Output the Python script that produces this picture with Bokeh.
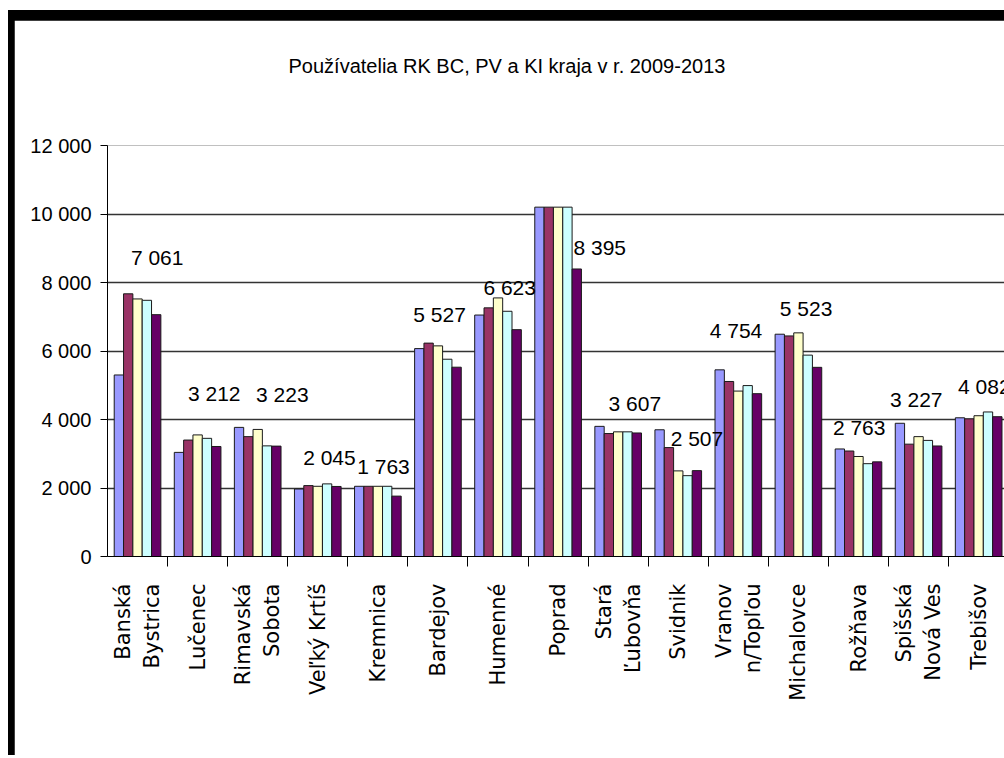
import math
import numpy as np
from bokeh.plotting import figure
from bokeh.models import ColumnDataSource, FixedTicker, Range1d, Title
from bokeh.layouts import column
from bokeh.core.properties import value
from bokeh.embed import file_html
from bokeh.resources import INLINE

# ---------------- data ----------------
title_text = "Používatelia RK BC, PV a KI kraja v r. 2009-2013"
categories = ["Banská\nBystrica", "Lučenec", "Rimavská\nSobota", "Veľký Krtíš", "Kremnica",
              "Bardejov", "Humenné", "Poprad", "Stará\nĽubovňa", "Svidnik",
              "Vranov\nn/Topľou", "Michalovce", "Rožňava", "Spišská\nNová Ves", "Trebišov"]
series_names = ["2009", "2010", "2011", "2012", "2013"]
s2009 = [5300, 3040, 3770, 1970, 2050, 6070, 7050, 10200, 3800, 3700, 5450, 6490, 3140, 3890, 4050]
s2010 = [7670, 3400, 3500, 2070, 2050, 6230, 7260, 10200, 3590, 3180, 5110, 6440, 3080, 3280, 4020]
s2011 = [7520, 3550, 3710, 2050, 2050, 6150, 7550, 10200, 3640, 2500, 4830, 6530, 2920, 3500, 4110]
s2012 = [7480, 3450, 3230, 2120, 2050, 5760, 7160, 10200, 3640, 2360, 4990, 5880, 2710, 3390, 4220]
s2013 = [7061, 3212, 3223, 2045, 1763, 5527, 6623, 8395, 3607, 2507, 4754, 5523, 2763, 3227, 4082]
y_ticks = [0, 2000, 4000, 6000, 8000, 10000, 12000]
y_tick_labels = ["0", "2 000", "4 000", "6 000", "8 000", "10 000", "12 000"]

# manual nudges of the 2013 data labels (pixels), as placed in the original
label_nudge_x = [1, -2, 6, -7, -13, -17, -7, 23, -2, 0, -21, -11, -18, -21, -13]
label_nudge_y = [57, 53, 52, 29, 30, 53, 42, 21, 29, 32, 63, 59, 34, 46, 30]

colors = ["#9999FF", "#993366", "#FFFFCC", "#CCFFFF", "#660066"]
series = [s2009, s2010, s2011, s2012, s2013]

SANS = "Liberation Sans"

p = figure(width=990, height=735, output_backend="svg", toolbar_location=None,
           x_range=Range1d(0, 14.93), y_range=Range1d(0, 12000),
           min_border_left=93, min_border_right=0, min_border_top=125, min_border_bottom=199,
           border_fill_color="white", background_fill_color="white",
           outline_line_color=None)
p.margin = (10, 0, 0, 6)
p.title.text = ""
p.title.standoff = 0

# blank spacer between frame and title, then the title itself (outermost)
p.add_layout(Title(text=" ", standoff=40, text_font=SANS, text_font_size="20px"), "above")
p.add_layout(Title(text=title_text, align="left", offset=181, standoff=10,
                   text_font=SANS, text_font_size="20px", text_font_style="normal",
                   text_color="black"), "above")

n = len(categories)
idx = np.arange(n)
bw = 0.1553
first = 0.1117 + bw / 2
for k, (name, vals) in enumerate(zip(series_names, series)):
    src = ColumnDataSource(dict(x=idx + first + k * bw, top=vals))
    p.vbar(x="x", top="top", width=bw, source=src, fill_color=colors[k],
           line_color="#1a1a1a", line_width=1)

lab_src = ColumnDataSource(dict(
    x=idx + first + 4 * bw, y=s2013,
    text=[f"{v:,}".replace(",", " ") for v in s2013],
    dx=label_nudge_x, dy=[-d for d in label_nudge_y]))
p.text(x="x", y="y", text="text", x_offset="dx", y_offset="dy", source=lab_src,
       text_align="center", text_baseline="middle",
       text_font=value(SANS), text_font_size="21px", text_color="black")

# y axis
p.yaxis.ticker = FixedTicker(ticks=y_ticks)
p.yaxis.major_label_overrides = {t: l for t, l in zip(y_ticks, y_tick_labels)}
p.yaxis.major_label_text_font = SANS
p.yaxis.major_label_text_font_size = "20px"
p.yaxis.major_label_text_color = "black"
p.yaxis.major_tick_out = 7
p.yaxis.major_tick_in = 0
p.yaxis.minor_tick_out = 0
p.yaxis.minor_tick_in = 0
p.yaxis.axis_line_color = "black"
p.yaxis.major_tick_line_color = "black"
p.yaxis.major_label_standoff = 9

p.ygrid.ticker = FixedTicker(ticks=y_ticks)
p.ygrid.grid_line_color = "#333333"
p.ygrid.grid_line_width = 1.3
p.xgrid.visible = False

# x axis: labels at category centres, ticks between categories
centers = [i + 0.5 for i in range(n)]
p.xaxis.ticker = FixedTicker(ticks=centers, minor_ticks=[float(i) for i in range(1, n)])
p.xaxis.major_label_overrides = {c: lab for c, lab in zip(centers, categories)}
p.xaxis.major_label_orientation = math.pi / 2
p.xaxis.major_label_text_font = "DejaVu Sans"
p.xaxis.major_label_text_font_size = "21px"
p.xaxis.major_label_text_color = "black"
p.xaxis.major_tick_out = 0
p.xaxis.major_tick_in = 0
p.xaxis.minor_tick_out = 10
p.xaxis.minor_tick_in = 0
p.xaxis.minor_tick_line_color = "black"
p.xaxis.axis_line_color = "black"
p.xaxis.major_label_standoff = 17

layout = column(p, styles={"background-color": "black"})
layout.margin = (10, 0, 0, 8)

open("out.html", "w").write(file_html(layout, INLINE))
